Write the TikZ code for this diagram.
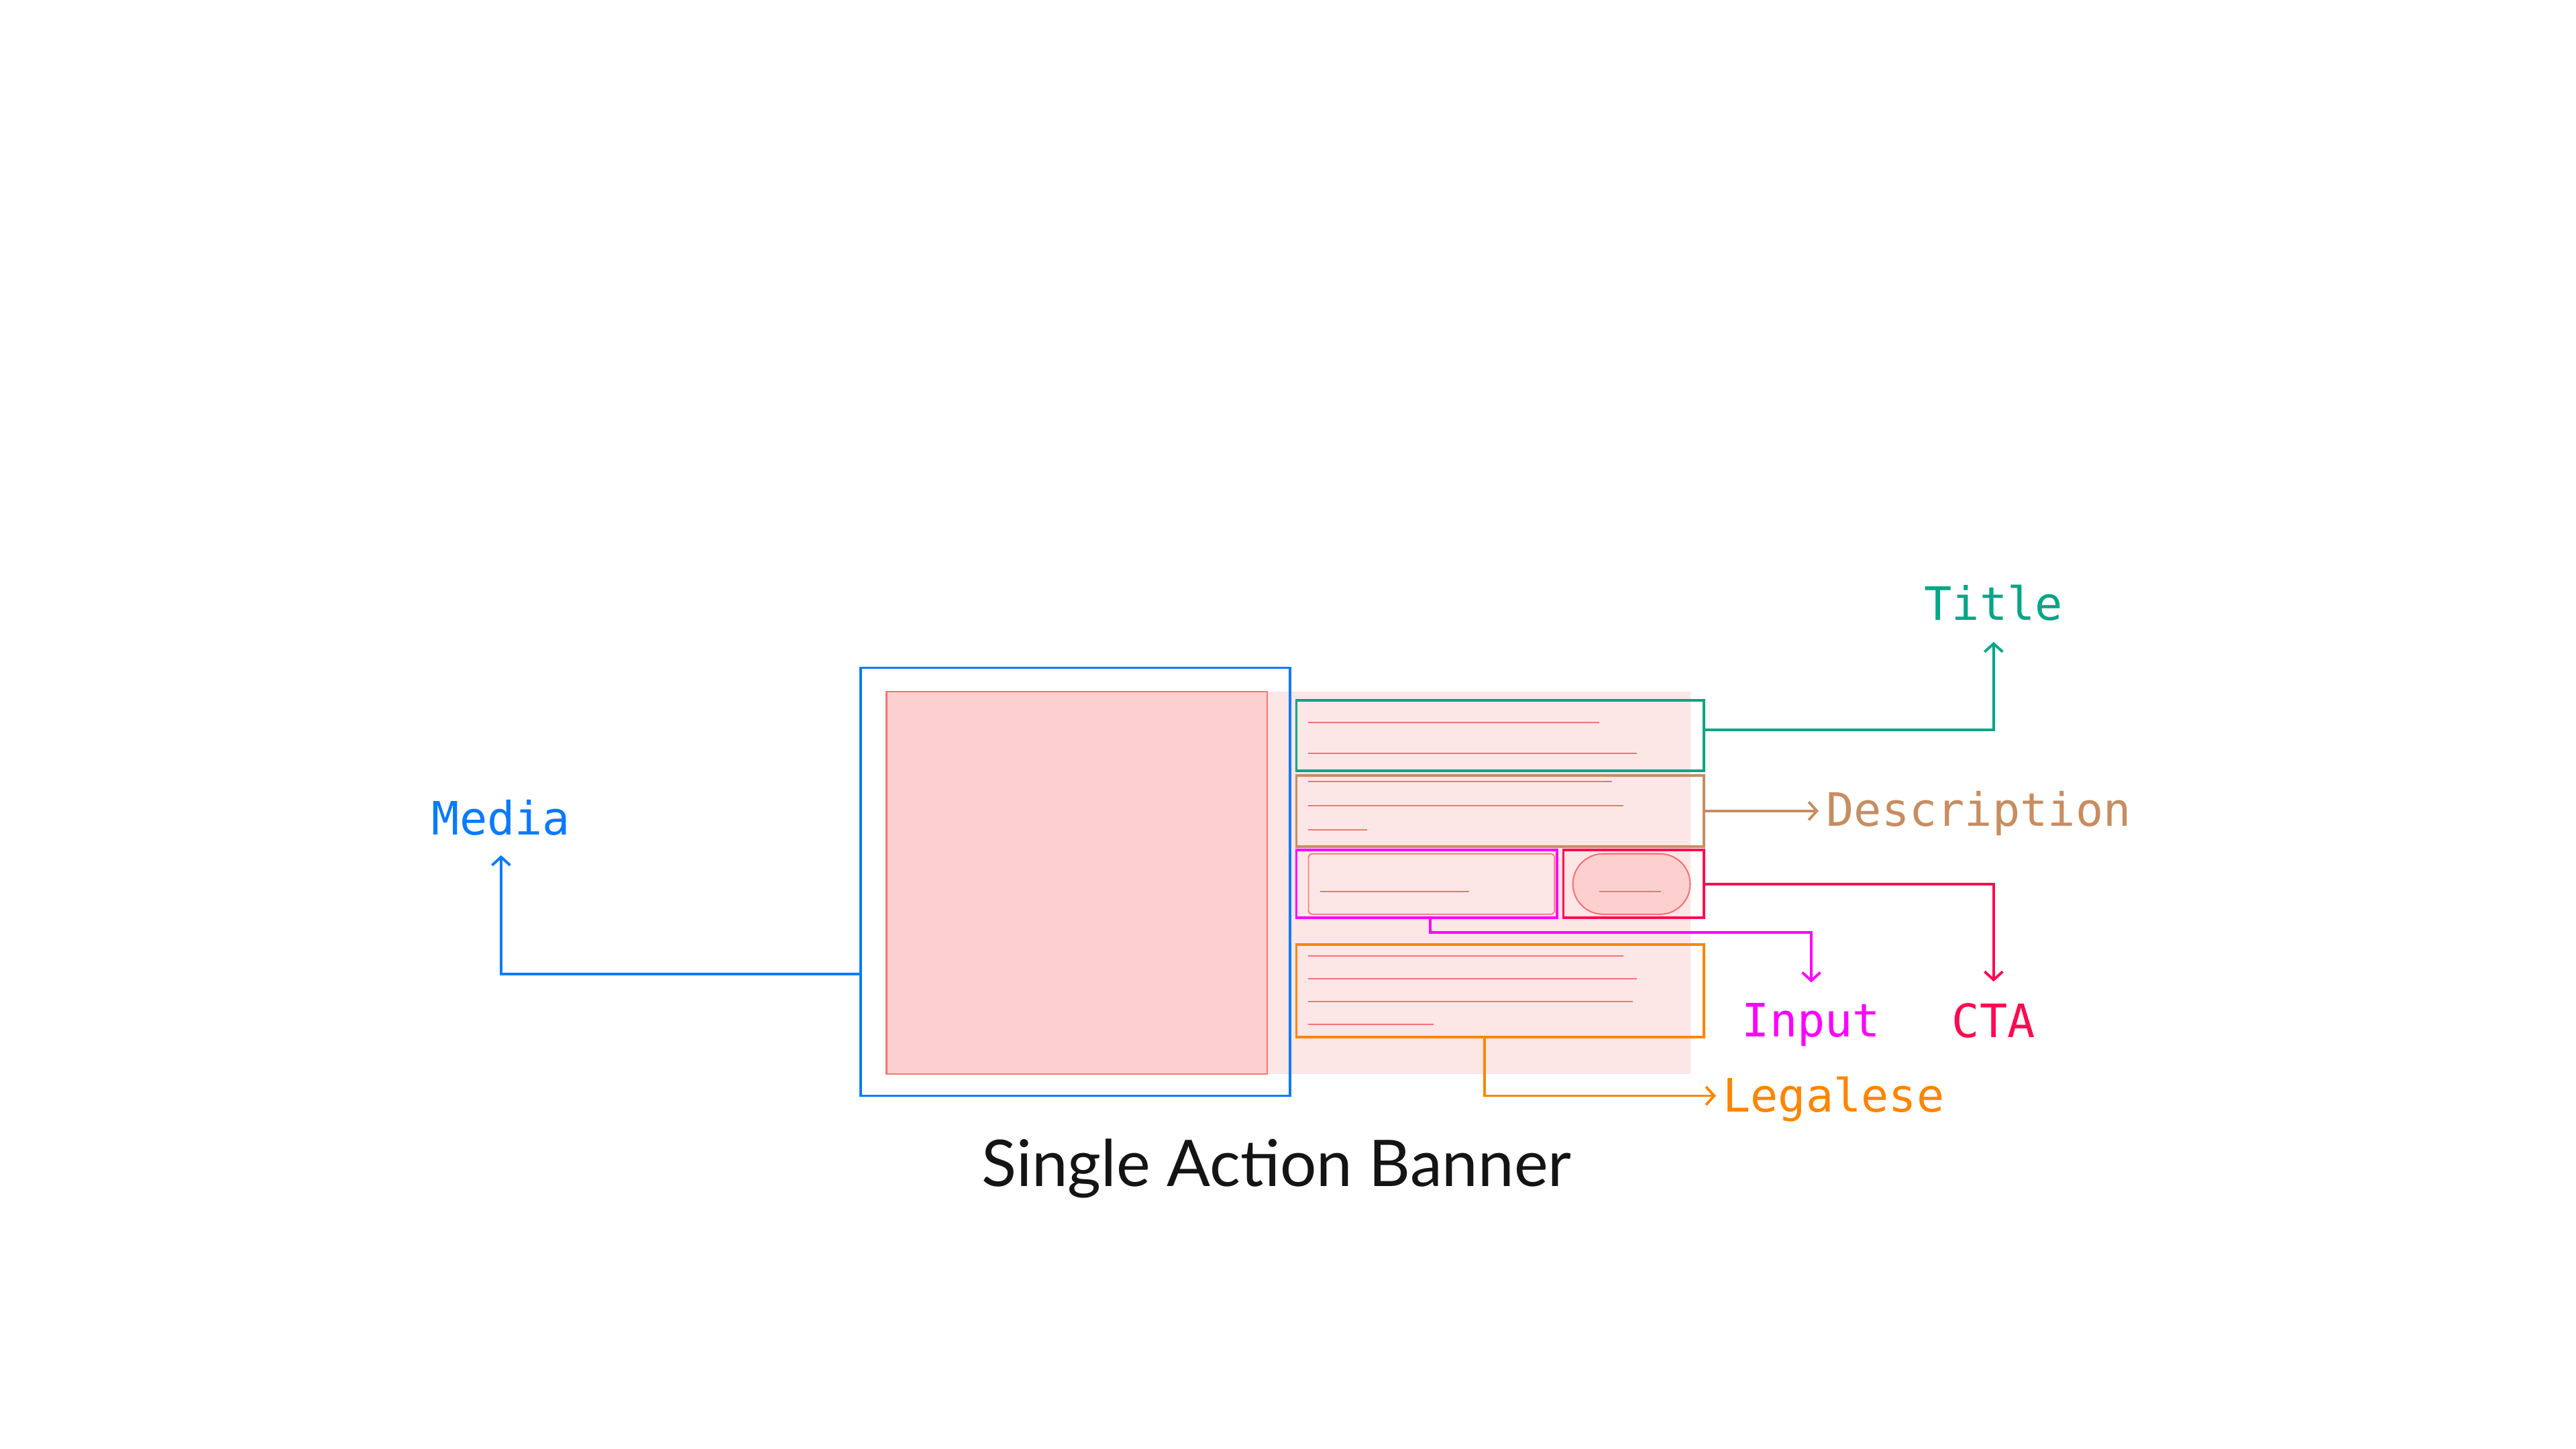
\documentclass[tikz,border=0pt]{standalone}
\usepackage{fontspec}
\setmainfont{Lato}
\setmonofont{DejaVu Sans Mono}
\usepackage{xcolor}
\usetikzlibrary{arrows.meta,positioning}
\definecolor{mediablue}{HTML}{0A7AFF}
\definecolor{titlegreen}{HTML}{00A685}
\definecolor{descbrown}{HTML}{C78D61}
\definecolor{inputmagenta}{HTML}{FF00FF}
\definecolor{ctared}{HTML}{FF0A50}
\definecolor{legalorange}{HTML}{FF8500}
\definecolor{pinkfill}{HTML}{FDD0D0}
\definecolor{pinkbg}{HTML}{FDE6E6}
\definecolor{pinkline}{HTML}{F87272}
\definecolor{captiongray}{HTML}{141414}
\tikzstyle{part} = [rectangle, draw, line width=1.6pt, inner sep=0pt, outer sep=0pt, anchor=north west]
\tikzstyle{filler} = [rectangle, inner sep=0pt, outer sep=0pt, anchor=north west]
\tikzstyle{textline} = [draw=pinkline, line width=0.85pt]
\tikzstyle{tag} = [inner sep=0pt, font=\ttfamily\fontsize{28}{28}\selectfont]
\tikzstyle{arrow} = [line width=1.6pt,-{Straight Barb[length=5pt,width=11pt]}]

\begin{document}
\begin{tikzpicture}[x=1pt,y=-1pt]
		\useasboundingbox[fill=white] (0,0) rectangle (1568,882);
		% banner and media
		\node[filler, fill=pinkbg, minimum width=489.2pt, minimum height=232.8pt] (banner) at (539.6,420.9) {};
		\node[filler, fill=pinkfill, draw=pinkline, line width=0.85pt, minimum width=231.9pt, minimum height=232.8pt] (image) at (539.6,420.9) {};
		\node[part, draw=mediablue, minimum width=261.4pt, minimum height=260.5pt] (media) at (524,406.5) {};
		
		% fake text lines
		\foreach \y/\xend in {439.6/973.3, 458.4/996.3, 475.6/981.4, 490.3/988.2, 505/832.1, 581.8/988.2, 595.6/996.3, 609.6/993.9, 623.4/872.4}
		\draw[textline] (796.3,\y) -- (\xend,\y);
		\node[filler, draw=pinkline, line width=0.7pt, rounded corners=2pt, minimum width=149.7pt, minimum height=36.8pt] (field) at (796.5,519.7) {};
		\node[filler, fill=pinkfill, draw=pinkline, line width=0.85pt, rounded corners=18.4pt, minimum width=71.4pt, minimum height=36.8pt] (button) at (957.4,519.7) {};
		\draw[textline] (803.7,542.6) -- (894.4,542.6);
		\draw[textline] (973.6,542.6) -- (1011.2,542.6);
		
		% parts
		\node[part, draw=titlegreen, minimum width=247.9pt, minimum height=43pt] (title) at (789.1,426.2) {};
		\node[part, draw=descbrown, minimum width=247.9pt, minimum height=43.4pt] (desc) at (789.1,471.9) {};
		\node[part, draw=inputmagenta, minimum width=158.8pt, minimum height=41.2pt] (input) at (789.1,517.4) {};
		\node[part, draw=ctared, minimum width=85.4pt, minimum height=41.2pt] (cta) at (951.6,517.4) {};
		\node[part, draw=legalorange, minimum width=247.9pt, minimum height=56.3pt] (legal) at (789.1,574.9) {};
		
		% labels
		\coordinate (mediatip) at (305,520.6);
		\coordinate (titletip) at (1213.5,390.7);
		\coordinate (desctip) at ([xshift=70pt]desc.east);
		\coordinate (inputtip) at (1102.5,598);
		\coordinate (ctatip) at (1213.5,597.5);
		\coordinate (legaltip) at (1044.5,667);
		\node[tag, text=mediablue, above=11.8pt of mediatip] (medialabel) {Media};
		\node[tag, text=titlegreen, above=12.6pt of titletip] (titlelabel) {Title};
		\node[tag, text=descbrown, anchor=base west] (desclabel) at ([shift={(4.5,9.4)}]desctip) {Description};
		\node[tag, text=inputmagenta, below=12.5pt of inputtip] (inputlabel) {Input};
		\node[tag, text=ctared, below=13pt of ctatip] (ctalabel) {CTA};
		\node[tag, text=legalorange, anchor=base west] (legallabel) at ([shift={(4,9.9)}]legaltip) {Legalese};
		
		\draw[arrow, mediablue] ([yshift=-56pt]media.west) -| (mediatip);
		\draw[arrow, titlegreen] ([yshift=3.6pt]title.east) -| (titletip);
		\draw[arrow, descbrown] (desc.east) -- (desctip);
		\draw[arrow, inputmagenta] ([xshift=2pt]input.south) -- ++(0,9) -| (inputtip);
		\draw[arrow, ctared] (cta.east) -| (ctatip);
		\draw[arrow, legalorange] ([xshift=-9.5pt]legal.south) |- (legaltip);
		
		\node[anchor=base, inner sep=0pt, text=captiongray, font=\fontsize{39.2}{39.2}\selectfont] (caption) at (777,722) {Single Action Banner};
\end{tikzpicture}
\end{document}
